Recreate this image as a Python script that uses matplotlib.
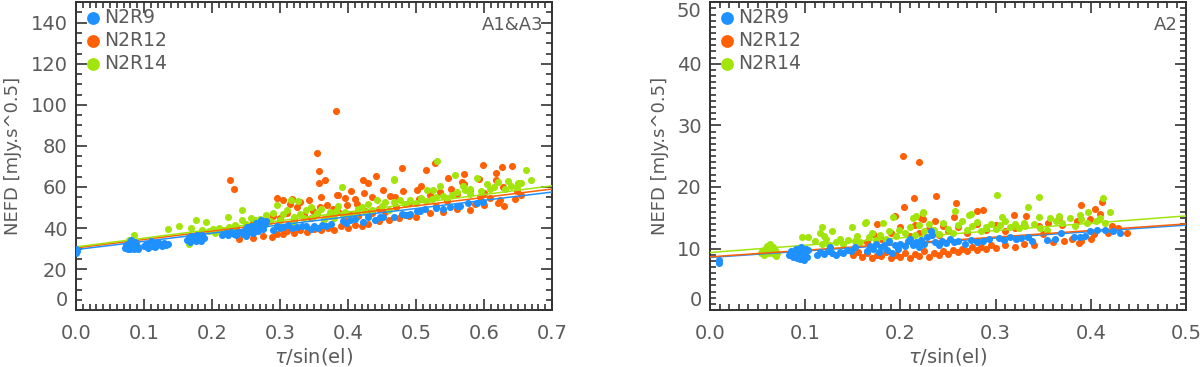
"""
NEFD vs tau/sin(el) for the three NIKA2 runs
"""

import numpy as np
import matplotlib.pyplot as plt
from matplotlib.ticker import MultipleLocator, FormatStrFormatter

# Colours
C_BLUE = '#1e90ff'
C_ORANGE = '#ff6005'
C_GREEN = '#a2e50c'
C_TEXT = '#5a5a5a'

RUNS = ['N2R9', 'N2R12', 'N2R14']

# ---------------------------------------------------------------------------
# Panel A1&A3 : (tau/sin(el), NEFD) pairs
# ---------------------------------------------------------------------------
a13_n2r9 = np.array([
    (0.0, 28.0), (0.0, 30.0), (0.002, 29.0),
    (0.072, 30.5), (0.074, 31.8), (0.076, 30.0), (0.078, 32.5), (0.079, 29.8),
    (0.080, 31.2), (0.082, 33.0), (0.083, 30.6), (0.084, 32.0), (0.085, 29.9),
    (0.086, 31.5), (0.087, 33.4), (0.088, 30.8), (0.089, 32.2), (0.090, 31.0),
    (0.091, 29.8), (0.081, 34.0),
    (0.100, 31.0), (0.103, 32.2), (0.106, 30.5), (0.108, 31.8), (0.110, 33.8),
    (0.112, 31.2), (0.114, 32.6), (0.116, 30.8), (0.119, 31.5), (0.121, 33.0),
    (0.124, 32.0), (0.127, 31.4), (0.130, 32.8), (0.133, 31.8), (0.136, 32.3),
    (0.164, 34.0), (0.166, 35.5), (0.168, 33.2), (0.170, 36.0), (0.172, 34.6),
    (0.174, 35.2), (0.176, 33.8), (0.178, 36.5), (0.180, 34.8), (0.182, 35.8),
    (0.184, 33.5), (0.186, 36.8), (0.188, 35.0),
    (0.215, 36.5), (0.220, 37.5), (0.224, 36.8), (0.228, 38.0), (0.232, 37.2),
    (0.236, 36.4), (0.240, 38.2),
    (0.246, 37.0), (0.248, 39.2), (0.250, 36.2), (0.252, 40.5), (0.255, 38.0),
    (0.258, 41.0), (0.260, 37.8), (0.262, 39.8), (0.265, 42.5), (0.267, 38.5),
    (0.270, 40.8), (0.272, 44.0), (0.275, 39.5), (0.278, 41.8), (0.280, 43.2),
    (0.290, 39.0), (0.295, 41.0), (0.300, 39.8), (0.305, 40.6), (0.312, 41.5),
    (0.318, 40.0), (0.325, 40.4), (0.332, 41.2), (0.338, 40.8), (0.345, 39.6),
    (0.350, 41.0), (0.356, 40.2), (0.362, 41.6), (0.368, 40.9), (0.375, 42.0),
    (0.392, 43.2), (0.397, 42.2), (0.403, 43.7), (0.410, 44.2), (0.4225, 42.9),
    (0.430, 45.3), (0.440, 43.7), (0.447, 45.3), (0.452, 45.6), (0.467, 45.3),
    (0.479, 46.9), (0.486, 46.4), (0.491, 46.9), (0.501, 48.5), (0.506, 48.5),
    (0.513, 49.4), (0.530, 49.8), (0.540, 49.4), (0.550, 50.2), (0.560, 50.5),
    (0.565, 50.5), (0.577, 52.1), (0.589, 52.4), (0.599, 52.9),
])

a13_n2r12 = np.array([
    (0.2265, 63.6), (0.232, 58.9), (0.382, 97.1), (0.355, 76.4), (0.358, 67.6),
    (0.358, 62.1), (0.366, 63.4), (0.360, 55.0), (0.384, 56.1), (0.405, 58.1),
    (0.422, 63.6), (0.429, 62.1), (0.441, 65.2), (0.423, 56.9),
    (0.305, 53.7), (0.342, 53.7), (0.369, 51.0), (0.386, 56.3), (0.396, 54.7),
    (0.410, 54.2), (0.315, 51.8), (0.325, 50.2), (0.349, 48.5), (0.359, 50.2),
    (0.378, 49.4), (0.398, 51.0), (0.413, 51.8), (0.435, 55.3), (0.452, 58.3),
    (0.462, 55.8), (0.296, 54.4), (0.318, 54.0), (0.330, 52.5),
    (0.480, 69.3), (0.515, 68.4), (0.528, 71.5), (0.5475, 64.4), (0.5706, 66.4),
    (0.567, 62.3), (0.598, 70.9), (0.618, 66.7), (0.626, 69.6), (0.641, 70.4),
    (0.617, 63.4), (0.628, 60.2), (0.648, 57.9), (0.6235, 53.4), (0.587, 51.5),
    (0.609, 54.7), (0.508, 60.3), (0.501, 58.3), (0.535, 57.4), (0.551, 59.0),
    (0.570, 61.5), (0.592, 63.9), (0.594, 55.0), (0.481, 57.9), (0.469, 55.3),
    (0.484, 46.1), (0.520, 56.0), (0.545, 53.0), (0.560, 56.5), (0.580, 58.5),
    (0.600, 57.0), (0.490, 52.0), (0.505, 54.0), (0.530, 50.5),
    (0.240, 34.5), (0.260, 35.2), (0.275, 36.0), (0.2878, 35.6), (0.295, 37.0),
    (0.305, 37.2), (0.310, 38.5), (0.320, 37.5), (0.330, 39.0), (0.340, 38.2),
    (0.350, 39.4), (0.360, 38.8), (0.370, 40.0), (0.380, 39.2), (0.390, 41.0),
    (0.400, 40.2), (0.410, 41.5), (0.420, 40.8), (0.430, 42.0), (0.445, 43.5),
    (0.460, 44.0), (0.475, 45.0), (0.490, 46.0), (0.500, 45.5), (0.520, 47.5),
    (0.540, 48.0), (0.560, 49.5), (0.580, 48.8), (0.600, 51.0), (0.620, 52.0),
    (0.630, 50.5), (0.645, 54.0), (0.655, 56.0),
    (0.260, 42.5), (0.280, 44.5), (0.290, 46.0), (0.300, 45.0), (0.310, 47.5),
    (0.320, 44.0), (0.335, 46.5), (0.345, 45.0), (0.355, 47.0), (0.365, 44.5),
    (0.375, 46.0), (0.385, 48.0), (0.395, 45.5), (0.405, 47.0), (0.415, 46.0),
    (0.425, 48.5), (0.435, 47.5), (0.445, 49.5), (0.455, 48.0), (0.470, 50.0),
    (0.215, 39.0), (0.225, 38.0), (0.235, 40.5),
])

a13_n2r14 = np.array([
    (0.078, 34.0), (0.0858, 36.7), (0.089, 31.0), (0.082, 33.0), (0.136, 39.5),
    (0.151, 40.8), (0.166, 32.4), (0.169, 40.1), (0.176, 44.0), (0.179, 37.2),
    (0.191, 42.7), (0.201, 39.6), (0.211, 40.1), (0.223, 45.6), (0.2255, 40.4),
    (0.195, 38.5), (0.185, 39.0), (0.205, 37.5), (0.215, 38.5), (0.230, 39.5),
    (0.234, 41.3), (0.244, 48.9), (0.244, 44.0), (0.263, 43.7), (0.275, 42.1),
    (0.280, 46.1), (0.295, 51.0), (0.305, 46.9), (0.316, 53.4), (0.319, 42.9),
    (0.327, 53.1), (0.339, 48.9), (0.349, 45.3), (0.364, 44.5), (0.374, 47.7),
    (0.383, 48.5), (0.391, 59.9), (0.393, 46.1), (0.403, 45.3), (0.420, 50.2),
    (0.442, 53.4), (0.467, 63.4), (0.250, 42.0), (0.258, 45.0), (0.270, 44.5),
    (0.285, 43.5), (0.290, 47.5), (0.300, 44.0), (0.310, 49.0), (0.320, 45.5),
    (0.330, 47.0), (0.335, 44.8), (0.345, 50.0), (0.355, 47.5), (0.360, 49.5),
    (0.370, 46.0), (0.380, 45.0), (0.385, 50.5), (0.395, 48.0), (0.410, 47.0),
    (0.415, 49.5), (0.425, 48.0), (0.430, 51.5), (0.435, 49.0), (0.450, 50.5),
    (0.455, 52.5), (0.460, 49.0),
    (0.467, 52.6), (0.476, 53.4), (0.484, 51.8), (0.491, 53.4), (0.468, 63.9),
    (0.508, 54.7), (0.516, 58.3), (0.523, 54.2), (0.5255, 58.6), (0.531, 72.5),
    (0.535, 60.7), (0.540, 55.8), (0.5525, 56.3), (0.557, 65.9), (0.569, 60.7),
    (0.572, 58.3), (0.579, 59.0), (0.579, 56.6), (0.590, 64.4), (0.604, 61.2),
    (0.609, 59.0), (0.621, 62.3), (0.631, 59.0), (0.636, 62.8), (0.648, 60.2),
    (0.650, 61.8), (0.662, 68.3), (0.669, 63.6), (0.500, 52.0), (0.515, 53.0),
    (0.530, 55.0), (0.545, 54.5), (0.560, 57.5), (0.595, 58.0), (0.615, 60.0),
    (0.640, 60.5), (0.655, 62.0),
])

# ---------------------------------------------------------------------------
# Panel A2
# ---------------------------------------------------------------------------
a2_n2r9 = np.array([
    (0.0098, 8.2), (0.0098, 7.6),
    (0.083, 9.0), (0.085, 9.6), (0.087, 8.7), (0.089, 9.3), (0.090, 10.0),
    (0.091, 8.5), (0.092, 9.1), (0.093, 9.8), (0.094, 8.3), (0.095, 9.4),
    (0.096, 10.3), (0.097, 8.8), (0.098, 9.5), (0.099, 8.1), (0.100, 9.2),
    (0.101, 10.0), (0.102, 8.6), (0.103, 9.7),
    (0.112, 9.0), (0.116, 9.4), (0.120, 9.1), (0.124, 9.6), (0.126, 10.3),
    (0.128, 9.2), (0.132, 8.9), (0.136, 9.5), (0.140, 9.3), (0.144, 9.8),
    (0.148, 9.6), (0.152, 10.2),
    (0.165, 9.6), (0.168, 10.4), (0.171, 9.9), (0.174, 10.8), (0.177, 9.5),
    (0.180, 10.2), (0.183, 10.6), (0.186, 9.8), (0.188, 11.2), (0.191, 9.2),
    (0.194, 10.5), (0.197, 10.0), (0.200, 10.8),
    (0.205, 10.4), (0.208, 11.2), (0.210, 11.6), (0.213, 10.6), (0.216, 11.0),
    (0.219, 10.2), (0.222, 11.4), (0.225, 10.8), (0.228, 11.8), (0.232, 12.9),
    (0.233, 12.2), (0.236, 11.0), (0.240, 10.6), (0.244, 11.3), (0.248, 10.9),
    (0.252, 11.5), (0.256, 11.0), (0.260, 11.2),
    (0.268, 10.8), (0.274, 11.4), (0.280, 11.0), (0.287, 11.3), (0.293, 11.6),
    (0.303, 11.7), (0.309, 11.4), (0.315, 11.9), (0.321, 11.5), (0.327, 11.7),
    (0.334, 11.9), (0.338, 11.3),
    (0.354, 11.4), (0.362, 11.6), (0.369, 12.5), (0.382, 11.9), (0.389, 11.9),
    (0.394, 12.1), (0.399, 12.9), (0.406, 13.0), (0.415, 13.0), (0.423, 12.8),
    (0.431, 12.6),
])

a2_n2r12 = np.array([
    (0.203, 25.1), (0.2195, 24.0), (0.2146, 18.2), (0.237, 18.5), (0.204, 16.7),
    (0.258, 17.4), (0.194, 15.3), (0.175, 14.0), (0.1716, 12.4), (0.222, 14.9),
    (0.224, 14.8), (0.236, 14.5), (0.256, 15.1), (0.280, 16.1), (0.287, 16.3),
    (0.3196, 15.5), (0.3897, 17.0), (0.4114, 17.6), (0.4044, 16.4), (0.410, 15.6),
    (0.332, 15.3), (0.366, 15.2), (0.399, 14.8), (0.422, 13.7), (0.428, 13.3),
    (0.438, 12.6), (0.372, 11.2), (0.3876, 10.9), (0.380, 11.6), (0.403, 12.4),
    (0.418, 12.5), (0.334, 11.9), (0.350, 12.4),
    (0.150, 9.0), (0.155, 9.5), (0.160, 8.6), (0.165, 9.2), (0.170, 8.4),
    (0.175, 9.0), (0.180, 8.8), (0.185, 9.4), (0.190, 8.5), (0.195, 9.0),
    (0.200, 8.7), (0.205, 9.3), (0.210, 8.4), (0.215, 9.1), (0.220, 8.8),
    (0.225, 9.6), (0.230, 8.6), (0.235, 9.2), (0.240, 8.9), (0.245, 9.6),
    (0.250, 9.1), (0.255, 9.8), (0.260, 9.4), (0.265, 10.0), (0.270, 9.6),
    (0.275, 10.2), (0.280, 9.8), (0.285, 10.3), (0.290, 9.9), (0.295, 10.5),
    (0.300, 10.1), (0.310, 10.6), (0.320, 10.2), (0.330, 10.8), (0.340, 10.5),
    (0.360, 11.0), (0.390, 11.3), (0.400, 11.5),
    (0.180, 11.5), (0.190, 12.5), (0.200, 13.5), (0.210, 12.0), (0.215, 13.8),
    (0.220, 12.5), (0.230, 13.2), (0.240, 12.2), (0.245, 13.6), (0.250, 12.8),
    (0.260, 13.5), (0.270, 12.6), (0.280, 14.0), (0.290, 13.0), (0.300, 13.8),
    (0.310, 12.8), (0.320, 13.4), (0.330, 14.0), (0.345, 13.6), (0.355, 14.2),
    (0.370, 13.8), (0.385, 14.5), (0.165, 11.0), (0.175, 11.8),
])

a2_n2r14 = np.array([
    (0.053, 9.2), (0.055, 9.6), (0.057, 9.0), (0.058, 10.0), (0.059, 9.4),
    (0.060, 10.4), (0.061, 9.8), (0.062, 9.2), (0.063, 10.7), (0.064, 10.0),
    (0.065, 9.5), (0.066, 10.2), (0.067, 9.1), (0.068, 9.7), (0.069, 8.8),
    (0.070, 9.3),
    (0.0963, 11.9), (0.103, 11.8), (0.1176, 13.5), (0.115, 12.5), (0.110, 11.2),
    (0.118, 10.8), (0.120, 12.0), (0.122, 11.5), (0.125, 10.6), (0.128, 12.8),
    (0.132, 11.0), (0.136, 11.6), (0.140, 10.8), (0.145, 11.4), (0.149, 13.5),
    (0.152, 11.2), (0.154, 12.1), (0.158, 11.0), (0.163, 14.2), (0.164, 14.3),
    (0.167, 11.8), (0.170, 12.6), (0.174, 11.4), (0.178, 12.2), (0.182, 14.2),
    (0.185, 11.6), (0.188, 12.8), (0.192, 15.2), (0.195, 12.0), (0.198, 13.0),
    (0.2136, 15.0), (0.216, 15.3), (0.224, 15.7), (0.224, 15.9), (0.257, 16.1),
    (0.272, 15.5), (0.274, 15.6), (0.301, 18.7), (0.307, 15.1), (0.334, 16.8),
    (0.205, 12.5), (0.210, 13.5), (0.215, 12.2), (0.220, 13.8), (0.225, 12.8),
    (0.230, 14.0), (0.235, 13.0), (0.240, 12.4), (0.245, 14.2), (0.250, 13.2),
    (0.255, 12.6), (0.260, 13.8), (0.265, 14.5), (0.270, 13.0), (0.275, 13.6),
    (0.280, 14.3), (0.285, 12.8), (0.290, 13.5), (0.295, 14.0), (0.300, 13.2),
    (0.305, 13.8), (0.310, 14.4), (0.315, 13.5), (0.320, 14.0), (0.325, 13.4),
    (0.330, 14.2),
    (0.331, 13.7), (0.345, 18.4), (0.413, 18.2), (0.420, 15.9), (0.397, 15.9),
    (0.3886, 15.5), (0.366, 15.3), (0.357, 15.0), (0.378, 15.0), (0.345, 15.1),
    (0.347, 13.4), (0.354, 13.0), (0.363, 14.5), (0.383, 13.7), (0.396, 14.2),
    (0.405, 14.5), (0.410, 15.0), (0.370, 14.2), (0.340, 14.0), (0.390, 14.8),
    (0.415, 14.2),
])

# linear fits NEFD = a + b * tau/sin(el)   (N2R9, N2R12, N2R14)
a13_fit_a = [29.5, 30.3, 30.8]
a13_fit_b = [40.0, 41.0, 42.5]
a2_fit_a = [8.55, 8.65, 9.35]
a2_fit_b = [10.5, 10.7, 11.9]

# y tick labels (the top of the A1&A3 axis, 150, carries no label)
a13_yticks = [0, 20, 40, 60, 80, 100, 120, 140]
a2_yticks = [0, 10, 20, 30, 40, 50]

plt.rcParams['font.family'] = ['DejaVu Sans']
plt.rcParams['font.size'] = 14

fig = plt.figure(figsize=(12, 3.67), dpi=100)
ax1 = fig.add_axes([0.0633, 0.155, 0.3967, 0.839])
ax2 = fig.add_axes([0.5917, 0.155, 0.3967, 0.839])

panels = [
    (ax1, [a13_n2r9, a13_n2r12, a13_n2r14], a13_fit_a, a13_fit_b,
     0.7, 150, a13_yticks, 5, 'A1&A3'),
    (ax2, [a2_n2r9, a2_n2r12, a2_n2r14], a2_fit_a, a2_fit_b,
     0.5, 50, a2_yticks, 1, 'A2'),
]
colors = [C_BLUE, C_ORANGE, C_GREEN]

for ax, series, fa, fb, xmax, ymax, yticks, yminor, tag in panels:
    # orange, green first, then the fits, blue on top
    for i in [1, 2]:
        ax.scatter(series[i][:, 0], series[i][:, 1], s=26, color=colors[i],
                   linewidths=0, zorder=2)
    xx = np.array([0, xmax])
    for i in range(3):
        ax.plot(xx, fa[i] + fb[i] * xx, color=colors[i], lw=1.1, zorder=3)
    ax.scatter(series[0][:, 0], series[0][:, 1], s=26, color=colors[0],
               linewidths=0, zorder=4)

    # legend
    for i, run in enumerate(RUNS):
        ax.scatter([], [], s=85, color=colors[i], linewidths=0, label=run)
    leg = ax.legend(loc='upper left', frameon=False, fontsize=13.5,
                    handletextpad=0.0, labelspacing=0.22, borderaxespad=0.0,
                    borderpad=0.3, handlelength=1.2, scatterpoints=1)
    for t in leg.get_texts():
        t.set_color(C_TEXT)

    ax.text(0.982, 0.925, tag, transform=ax.transAxes, ha='right', va='center',
            fontsize=13, color=C_TEXT)

    ax.set_xlim(0, xmax)
    ax.set_ylim(0, ymax)
    ax.xaxis.set_major_locator(MultipleLocator(0.1))
    ax.xaxis.set_minor_locator(MultipleLocator(0.01))
    ax.xaxis.set_major_formatter(FormatStrFormatter('%.1f'))
    ax.set_yticks(yticks)
    ax.yaxis.set_minor_locator(MultipleLocator(yminor))
    ax.tick_params(which='both', direction='in', top=True, right=True,
                   colors='#333333', labelcolor=C_TEXT, labelsize=14, width=1.2)
    ax.tick_params(which='major', length=8)
    ax.tick_params(axis='x', which='major', pad=10)
    ax.tick_params(axis='y', which='major', pad=6)
    ax.tick_params(which='minor', length=4)
    for sp in ax.spines.values():
        sp.set_color('#333333')
        sp.set_linewidth(1.4)

    # first y label sits on the x axis, the label at the top edge hangs below it
    yt = ax.yaxis.get_major_ticks()
    yt[0].label1.set_va('bottom')
    if yticks[-1] == ymax:
        yt[-1].label1.set_va('top')

    ax.set_xlabel(r'$\tau$/sin(el)', fontsize=14, color=C_TEXT, labelpad=2)
    ax.set_ylabel('NEFD [mJy.s^0.5]', fontsize=13, color=C_TEXT, labelpad=6)

plt.savefig('out.png', dpi=100)
